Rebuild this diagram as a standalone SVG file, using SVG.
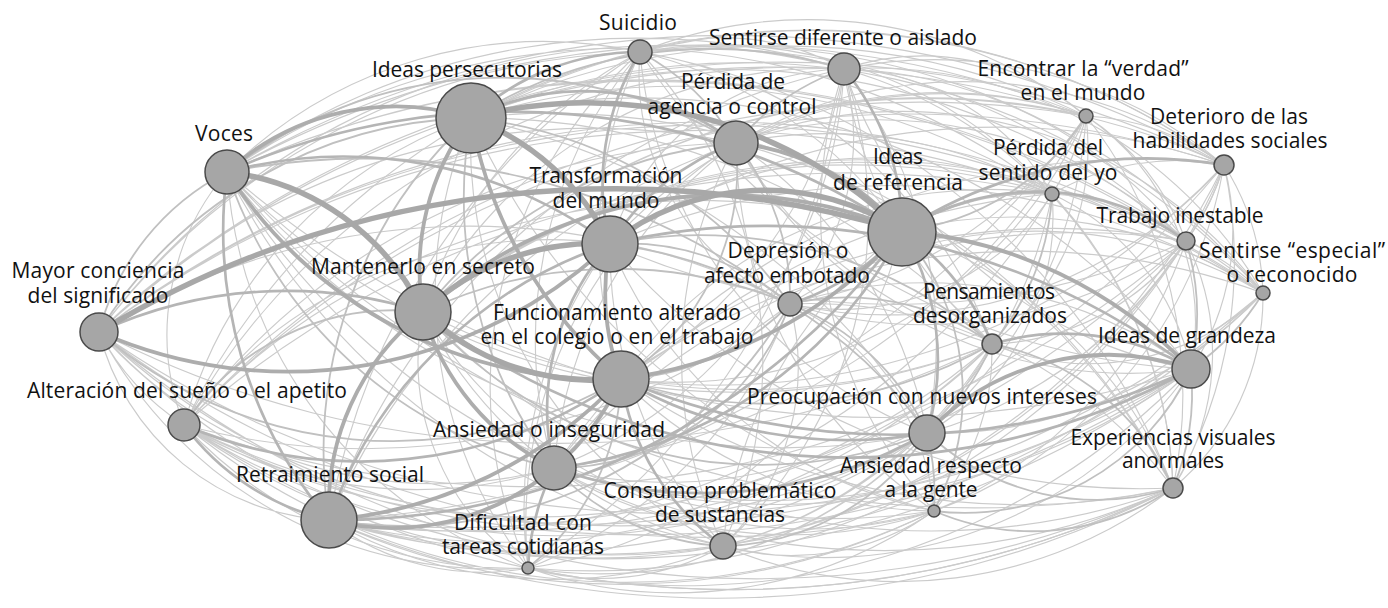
<svg xmlns="http://www.w3.org/2000/svg" width="1388" height="608" viewBox="0 0 1388 608">
<style>
.e0{fill:none;stroke:#cbcbcb;stroke-width:1.15}
.e1{fill:none;stroke:#c0c0c0;stroke-width:1.8}
.e2{fill:none;stroke:#b5b5b5;stroke-width:2.7}
.e3{fill:none;stroke:#adadad;stroke-width:3.8}
.e4{fill:none;stroke:#a8a8a8;stroke-width:5.5}
.n circle{fill:#a6a6a6;stroke:#4a4a4a;stroke-width:1.5}
.n text{font-family:"Open Sans","Noto Sans","Liberation Sans",sans-serif;font-size:21px;fill:#111;text-anchor:middle}
</style>
<rect width="1388" height="608" fill="#fff"/>
<g id="connectors">
<path class="e0" d="M99 332A250 250 0 0 0 184 425M99 332A250 250 0 0 0 329 520M99 332A450 450 0 0 0 528 568M99 332A450 450 0 0 0 554 468M99 332A700 700 0 0 1 640 52M99 332A700 700 0 0 0 723 546M99 332A700 700 0 0 1 736 143M99 332A700 700 0 0 1 790 304M99 332A700 700 0 0 1 844 69M99 332A700 700 0 0 0 927 433M99 332A1000 1000 0 0 0 934 511M99 332A1000 1000 0 0 0 992 344M99 332A1000 1000 0 0 1 1052 194M99 332A1000 1000 0 0 1 1086 116M99 332A1000 1000 0 0 0 1173 488M99 332A1000 1000 0 0 1 1186 241M99 332A1000 1000 0 0 0 1191 369M99 332A1000 1000 0 0 1 1224 165M99 332A1000 1000 0 0 1 1263 293"/>
<path class="e0" d="M184 425A250 250 0 0 1 227 172M184 425A450 450 0 0 1 471 118M184 425A450 450 0 0 0 528 568M184 425A450 450 0 0 0 554 468M184 425A450 450 0 0 1 610 244M184 425A700 700 0 0 1 640 52M184 425A700 700 0 0 0 723 546M184 425A700 700 0 0 1 736 143M184 425A700 700 0 0 0 790 304M184 425A700 700 0 0 1 844 69M184 425A700 700 0 0 1 902 231M184 425A700 700 0 0 0 927 433M184 425A700 700 0 0 0 934 511M184 425A700 700 0 0 0 992 344M184 425A1000 1000 0 0 1 1052 194M184 425A1000 1000 0 0 1 1086 116M184 425A1000 1000 0 0 0 1173 488M184 425A1000 1000 0 0 0 1186 241M184 425A1000 1000 0 0 0 1191 369M184 425A1000 1000 0 0 1 1224 165M184 425A1000 1000 0 0 0 1263 293"/>
<path class="e0" d="M227 172A450 450 0 0 0 528 568M227 172A450 450 0 0 1 640 52M227 172A700 700 0 0 0 723 546M227 172A700 700 0 0 1 844 69M227 172A700 700 0 0 0 927 433M227 172A700 700 0 0 0 934 511M227 172A700 700 0 0 0 992 344M227 172A700 700 0 0 1 1052 194M227 172A1000 1000 0 0 1 1086 116M227 172A1000 1000 0 0 0 1173 488M227 172A1000 1000 0 0 1 1186 241M227 172A1000 1000 0 0 0 1191 369M227 172A1000 1000 0 0 1 1224 165M227 172A1000 1000 0 0 1 1263 293"/>
<path class="e0" d="M329 520A250 250 0 0 0 528 568M329 520A700 700 0 0 1 640 52M329 520A450 450 0 0 0 723 546M329 520A700 700 0 0 1 736 143M329 520A700 700 0 0 1 844 69M329 520A700 700 0 0 0 927 433M329 520A700 700 0 0 0 934 511M329 520A700 700 0 0 0 992 344M329 520A700 700 0 0 0 1052 194M329 520A1000 1000 0 0 0 1086 116M329 520A1000 1000 0 0 0 1173 488M329 520A1000 1000 0 0 0 1186 241M329 520A1000 1000 0 0 0 1191 369M329 520A1000 1000 0 0 0 1224 165M329 520A1000 1000 0 0 0 1263 293"/>
<path class="e0" d="M423 312A250 250 0 0 0 528 568M423 312A450 450 0 0 1 640 52M423 312A450 450 0 0 0 723 546M423 312A450 450 0 0 1 844 69M423 312A450 450 0 0 0 934 511M423 312A700 700 0 0 0 992 344M423 312A700 700 0 0 1 1052 194M423 312A700 700 0 0 1 1086 116M423 312A700 700 0 0 0 1173 488M423 312A700 700 0 0 1 1186 241M423 312A700 700 0 0 1 1224 165M423 312A700 700 0 0 1 1263 293"/>
<path class="e0" d="M471 118A450 450 0 0 0 528 568M471 118A450 450 0 0 0 723 546M471 118A700 700 0 0 1 927 433M471 118A700 700 0 0 0 934 511M471 118A700 700 0 0 1 992 344M471 118A700 700 0 0 1 1052 194M471 118A700 700 0 0 1 1086 116M471 118A700 700 0 0 1 1173 488M471 118A700 700 0 0 1 1186 241M471 118A700 700 0 0 1 1191 369M471 118A700 700 0 0 1 1224 165M471 118A700 700 0 0 1 1263 293"/>
<path class="e0" d="M528 568A450 450 0 0 1 610 244M528 568A450 450 0 0 1 640 52M528 568A250 250 0 0 0 723 546M528 568A450 450 0 0 1 736 143M528 568A450 450 0 0 0 790 304M528 568A700 700 0 0 0 844 69M528 568A450 450 0 0 0 902 231M528 568A450 450 0 0 0 927 433M528 568A450 450 0 0 0 934 511M528 568A450 450 0 0 0 992 344M528 568A1000 1000 0 0 0 1173 488M528 568A700 700 0 0 0 1191 369M528 568A700 700 0 0 0 1186 241"/>
<path class="e0" d="M554 468A450 450 0 0 1 640 52M554 468A450 450 0 0 1 736 143M554 468A450 450 0 0 0 844 69M554 468A450 450 0 0 0 934 511M554 468A450 450 0 0 0 992 344M554 468A700 700 0 0 1 1052 194M554 468A700 700 0 0 0 1086 116M554 468A700 700 0 0 0 1173 488M554 468A700 700 0 0 1 1186 241M554 468A700 700 0 0 0 1191 369M554 468A700 700 0 0 1 1224 165M554 468A700 700 0 0 0 1263 293"/>
<path class="e0" d="M610 244A450 450 0 0 0 723 546M610 244A250 250 0 0 1 844 69M610 244A450 450 0 0 0 934 511M610 244A450 450 0 0 1 1052 194M610 244A450 450 0 0 1 1086 116M610 244A700 700 0 0 0 1173 488M610 244A700 700 0 0 0 1186 241M610 244A700 700 0 0 1 1224 165M610 244A700 700 0 0 1 1263 293"/>
<path class="e0" d="M621 379A450 450 0 0 1 640 52M621 379A450 450 0 0 0 844 69M621 379A450 450 0 0 0 934 511M621 379A450 450 0 0 1 1052 194M621 379A450 450 0 0 0 1086 116M621 379A700 700 0 0 0 1173 488M621 379A700 700 0 0 1 1186 241M621 379A700 700 0 0 0 1224 165M621 379A700 700 0 0 1 1263 293"/>
<path class="e0" d="M640 52A450 450 0 0 1 723 546M640 52A250 250 0 0 0 790 304M640 52A250 250 0 0 1 844 69M640 52A450 450 0 0 1 902 231M640 52A450 450 0 0 0 927 433M640 52A450 450 0 0 1 992 344M640 52A450 450 0 0 1 1052 194M640 52A450 450 0 0 1 1086 116M640 52A700 700 0 0 1 1173 488M640 52A700 700 0 0 1 1186 241M640 52A700 700 0 0 0 1191 369M640 52A700 700 0 0 1 1224 165M640 52A700 700 0 0 1 1263 293"/>
<path class="e0" d="M723 546A450 450 0 0 1 736 143M723 546A250 250 0 0 0 790 304M723 546A450 450 0 0 0 844 69M723 546A450 450 0 0 1 902 231M723 546A250 250 0 0 0 934 511M723 546A450 450 0 0 0 992 344M723 546A450 450 0 0 0 1052 194M723 546A450 450 0 0 0 1173 488M723 546A700 700 0 0 0 1186 241M723 546A450 450 0 0 0 1191 369M723 546A700 700 0 0 0 1224 165"/>
<path class="e0" d="M736 143A450 450 0 0 1 927 433M736 143A450 450 0 0 0 934 511M736 143A450 450 0 0 0 992 344M736 143A450 450 0 0 1 1052 194M736 143A450 450 0 0 1 1086 116M736 143A700 700 0 0 1 1173 488M736 143A450 450 0 0 1 1186 241M736 143A450 450 0 0 0 1191 369M736 143A450 450 0 0 1 1224 165M736 143A450 450 0 0 1 1263 293"/>
<path class="e0" d="M790 304A250 250 0 0 0 844 69M790 304A250 250 0 0 1 934 511M790 304A250 250 0 0 0 1052 194M790 304A450 450 0 0 0 1086 116M790 304A450 450 0 0 1 1173 488M790 304A450 450 0 0 0 1186 241M790 304A450 450 0 0 1 1191 369M790 304A450 450 0 0 0 1224 165M790 304A450 450 0 0 1 1263 293"/>
<path class="e0" d="M844 69A450 450 0 0 1 927 433M844 69A450 450 0 0 0 934 511M844 69A450 450 0 0 0 992 344M844 69A250 250 0 0 1 1052 194M844 69A250 250 0 0 1 1086 116M844 69A450 450 0 0 1 1173 488M844 69A450 450 0 0 1 1186 241M844 69A450 450 0 0 0 1191 369M844 69A450 450 0 0 1 1224 165M844 69A450 450 0 0 1 1263 293"/>
<path class="e0" d="M902 231A450 450 0 0 1 1173 488M902 231A450 450 0 0 1 1263 293M927 433A250 250 0 0 0 1052 194M927 433A450 450 0 0 0 1086 116M927 433A450 450 0 0 0 1186 241M927 433A450 450 0 0 0 1224 165M927 433A450 450 0 0 0 1263 293M934 511A250 250 0 0 0 992 344M934 511A450 450 0 0 0 1186 241M934 511A450 450 0 0 0 1224 165"/>
<path class="e0" d="M992 344A250 250 0 0 0 1086 116M992 344A250 250 0 0 0 1186 241M992 344A250 250 0 0 0 1224 165M992 344A250 250 0 0 0 1263 293M1052 194A250 250 0 0 0 1086 116M1052 194A450 450 0 0 1 1173 488M1052 194A250 250 0 0 1 1186 241M1052 194A250 250 0 0 1 1191 369M1052 194A250 250 0 0 1 1224 165M1086 116A450 450 0 0 1 1173 488M1086 116A250 250 0 0 1 1186 241M1086 116A250 250 0 0 1 1191 369M1086 116A250 250 0 0 1 1224 165"/>
<path class="e0" d="M1173 488A250 250 0 0 0 1186 241M1173 488A450 450 0 0 0 1224 165M1173 488A250 250 0 0 0 1263 293M1186 241A250 250 0 0 0 1224 165M1186 241A250 250 0 0 1 1263 293M1191 369A250 250 0 0 0 1224 165M1224 165A250 250 0 0 1 1263 293"/>
<path class="e1" d="M99 332A250 250 0 0 1 227 172"/>
<path class="e1" d="M99 332A450 450 0 0 1 471 118"/>
<path class="e1" d="M99 332A450 450 0 0 0 621 379"/>
<path class="e1" d="M184 425A250 250 0 0 1 423 312"/>
<path class="e1" d="M227 172A450 450 0 0 0 554 468"/>
<path class="e1" d="M227 172A450 450 0 0 1 736 143"/>
<path class="e1" d="M227 172A700 700 0 0 1 790 304"/>
<path class="e1" d="M329 520A450 450 0 0 1 471 118"/>
<path class="e1" d="M329 520A450 450 0 0 0 790 304"/>
<path class="e1" d="M423 312A450 450 0 0 1 736 143"/>
<path class="e1" d="M423 312A450 450 0 0 1 790 304"/>
<path class="e1" d="M423 312A450 450 0 0 0 927 433"/>
<path class="e1" d="M471 118A450 450 0 0 0 554 468"/>
<path class="e1" d="M471 118A450 450 0 0 1 790 304"/>
<path class="e1" d="M471 118A450 450 0 0 1 844 69"/>
<path class="e1" d="M528 568A250 250 0 0 0 621 379"/>
<path class="e1" d="M554 468A250 250 0 0 0 723 546"/>
<path class="e1" d="M554 468A250 250 0 0 0 790 304"/>
<path class="e1" d="M610 244A250 250 0 0 1 790 304"/>
<path class="e1" d="M610 244A450 450 0 0 1 927 433"/>
<path class="e1" d="M610 244A450 450 0 0 1 992 344"/>
<path class="e1" d="M621 379A250 250 0 0 0 736 143"/>
<path class="e1" d="M621 379A250 250 0 0 0 790 304"/>
<path class="e1" d="M621 379A450 450 0 0 0 992 344"/>
<path class="e1" d="M640 52A250 250 0 0 1 736 143"/>
<path class="e1" d="M723 546A250 250 0 0 0 927 433"/>
<path class="e1" d="M736 143A250 250 0 0 1 790 304"/>
<path class="e1" d="M736 143A250 250 0 0 1 844 69"/>
<path class="e1" d="M790 304A250 250 0 0 1 927 433"/>
<path class="e1" d="M790 304A250 250 0 0 1 992 344"/>
<path class="e1" d="M902 231A250 250 0 0 1 934 511"/>
<path class="e1" d="M902 231A250 250 0 0 1 1052 194"/>
<path class="e1" d="M902 231A250 250 0 0 0 1086 116"/>
<path class="e1" d="M927 433A250 250 0 0 1 934 511"/>
<path class="e1" d="M927 433A250 250 0 0 0 992 344"/>
<path class="e1" d="M927 433A250 250 0 0 0 1173 488"/>
<path class="e1" d="M934 511A250 250 0 0 0 1173 488"/>
<path class="e1" d="M934 511A250 250 0 0 0 1191 369"/>
<path class="e1" d="M992 344A250 250 0 0 0 1052 194"/>
<path class="e1" d="M992 344A250 250 0 0 1 1173 488"/>
<path class="e1" d="M1173 488A250 250 0 0 0 1191 369"/>
<path class="e1" d="M1186 241A250 250 0 0 1 1191 369"/>
<path class="e1" d="M1191 369A250 250 0 0 0 1263 293"/>
<path class="e2" d="M227 172A450 450 0 0 1 610 244"/>
<path class="e2" d="M227 172A450 450 0 0 0 329 520"/>
<path class="e2" d="M99 332A450 450 0 0 1 423 312"/>
<path class="e2" d="M184 425A250 250 0 0 0 329 520"/>
<path class="e2" d="M329 520A450 450 0 0 1 610 244"/>
<path class="e2" d="M790 304A250 250 0 0 0 902 231"/>
<path class="e2" d="M610 244A250 250 0 0 1 736 143"/>
<path class="e2" d="M471 118A250 250 0 0 1 736 143"/>
<path class="e2" d="M844 69A250 250 0 0 1 902 231"/>
<path class="e2" d="M902 231A250 250 0 0 1 992 344"/>
<path class="e2" d="M902 231A250 250 0 0 1 927 433"/>
<path class="e2" d="M621 379A450 450 0 0 0 927 433"/>
<path class="e2" d="M554 468A450 450 0 0 0 927 433"/>
<path class="e2" d="M329 520A700 700 0 0 0 902 231"/>
<path class="e2" d="M610 244A700 700 0 0 1 1191 369"/>
<path class="e2" d="M423 312A700 700 0 0 0 1191 369"/>
<path class="e2" d="M621 379A700 700 0 0 0 1191 369"/>
<path class="e2" d="M471 118A250 250 0 0 1 640 52"/>
<path class="e2" d="M610 244A250 250 0 0 1 640 52"/>
<path class="e2" d="M902 231A250 250 0 0 1 1186 241"/>
<path class="e2" d="M902 231A450 450 0 0 1 1224 165"/>
<path class="e2" d="M992 344A250 250 0 0 1 1191 369"/>
<path class="e2" d="M227 172A700 700 0 0 1 902 231"/>
<path class="e2" d="M554 468A250 250 0 0 1 610 244"/>
<path class="e2" d="M528 568A250 250 0 0 1 554 468"/>
<path class="e2" d="M621 379A250 250 0 0 0 723 546"/>
<path class="e2" d="M184 425A450 450 0 0 0 621 379"/>
<path class="e2" d="M554 468A450 450 0 0 0 902 231"/>
<path class="e3" d="M227 172A250 250 0 0 1 471 118"/>
<path class="e3" d="M227 172A450 450 0 0 0 621 379"/>
<path class="e3" d="M423 312A250 250 0 0 1 471 118"/>
<path class="e3" d="M423 312A450 450 0 0 1 902 231"/>
<path class="e3" d="M621 379A450 450 0 0 0 902 231"/>
<path class="e3" d="M329 520A450 450 0 0 0 621 379"/>
<path class="e3" d="M329 520A250 250 0 0 0 554 468"/>
<path class="e3" d="M99 332A470 470 0 0 0 610 244"/>
<path class="e3" d="M329 520A250 250 0 0 1 423 312"/>
<path class="e3" d="M610 244A250 250 0 0 0 621 379"/>
<path class="e3" d="M471 118A450 450 0 0 0 621 379"/>
<path class="e3" d="M554 468A250 250 0 0 0 621 379"/>
<path class="e3" d="M736 143A250 250 0 0 1 902 231"/>
<path class="e3" d="M902 231A450 450 0 0 1 1191 369"/>
<path class="e3" d="M927 433A250 250 0 0 1 1191 369"/>
<path class="e3" d="M423 312A250 250 0 0 0 554 468"/>
<path class="e4" d="M99 332A1000 1000 0 0 1 902 231"/>
<path class="e4" d="M227 172A250 250 0 0 1 423 312"/>
<path class="e4" d="M471 118A250 250 0 0 1 610 244"/>
<path class="e4" d="M423 312A250 250 0 0 1 610 244"/>
<path class="e4" d="M610 244A250 250 0 0 1 902 231"/>
<path class="e4" d="M423 312A250 250 0 0 0 621 379"/>
<path class="e4" d="M471 118A450 450 0 0 1 902 231"/>
</g>
<g id="node-suicidio" class="n"><circle cx="640" cy="52" r="12"/><text x="638" y="30" textLength="78">Suicidio</text></g>
<g id="node-sentirse-diferente" class="n"><circle cx="844" cy="69" r="16"/><text x="843" y="45" textLength="268">Sentirse diferente o aislado</text></g>
<g id="node-ideas-persecutorias" class="n"><circle cx="471" cy="118" r="35"/><text x="467" y="77" textLength="190">Ideas persecutorias</text></g>
<g id="node-perdida-agencia" class="n"><circle cx="736" cy="143" r="22"/><text><tspan x="733" y="89" textLength="104">Pérdida de</tspan><tspan x="732" y="114" textLength="169">agencia o control</tspan></text></g>
<g id="node-encontrar-verdad" class="n"><circle cx="1086" cy="116" r="7"/><text><tspan x="1083" y="76" textLength="211">Encontrar la “verdad”</tspan><tspan x="1083" y="100" textLength="125">en el mundo</tspan></text></g>
<g id="node-deterioro" class="n"><circle cx="1224" cy="165" r="10"/><text><tspan x="1229" y="124" textLength="158">Deterioro de las</tspan><tspan x="1230" y="148" textLength="195">habilidades sociales</tspan></text></g>
<g id="node-voces" class="n"><circle cx="227" cy="172" r="22"/><text x="224" y="141" textLength="58">Voces</text></g>
<g id="node-ideas-referencia" class="n"><circle cx="902" cy="232" r="34"/><text><tspan x="898" y="164" textLength="50">Ideas</tspan><tspan x="898" y="190" textLength="130">de referencia</tspan></text></g>
<g id="node-perdida-yo" class="n"><circle cx="1052" cy="194" r="7"/><text><tspan x="1048" y="155" textLength="110">Pérdida del</tspan><tspan x="1048" y="180" textLength="139">sentido del yo</tspan></text></g>
<g id="node-transformacion" class="n"><circle cx="610" cy="244" r="28"/><text><tspan x="606" y="183" textLength="153">Transformación</tspan><tspan x="606" y="208" textLength="107">del mundo</tspan></text></g>
<g id="node-trabajo" class="n"><circle cx="1186" cy="241" r="9"/><text x="1180" y="223" textLength="167">Trabajo inestable</text></g>
<g id="node-especial" class="n"><circle cx="1263" cy="293" r="7"/><text><tspan x="1292" y="258" textLength="186">Sentirse “especial”</tspan><tspan x="1292" y="282" textLength="131">o reconocido</tspan></text></g>
<g id="node-depresion" class="n"><circle cx="790" cy="304" r="12"/><text><tspan x="788" y="258" textLength="121">Depresión o</tspan><tspan x="787" y="283" textLength="166">afecto embotado</tspan></text></g>
<g id="node-mayor-conciencia" class="n"><circle cx="99" cy="332" r="19"/><text><tspan x="98" y="278" textLength="173">Mayor conciencia</tspan><tspan x="98" y="303" textLength="141">del significado</tspan></text></g>
<g id="node-mantenerlo" class="n"><circle cx="423" cy="312" r="28"/><text x="423" y="274" textLength="224">Mantenerlo en secreto</text></g>
<g id="node-pensamientos" class="n"><circle cx="992" cy="344" r="10"/><text><tspan x="989" y="299" textLength="132">Pensamientos</tspan><tspan x="990" y="323" textLength="154">desorganizados</tspan></text></g>
<g id="node-funcionamiento" class="n"><circle cx="621" cy="379" r="28"/><text><tspan x="617" y="320" textLength="248">Funcionamiento alterado</tspan><tspan x="617" y="344" textLength="273">en el colegio o en el trabajo</tspan></text></g>
<g id="node-grandeza" class="n"><circle cx="1191" cy="369" r="19"/><text x="1187" y="343" textLength="178">Ideas de grandeza</text></g>
<g id="node-alteracion" class="n"><circle cx="184" cy="425" r="16"/><text x="187" y="398" textLength="320">Alteración del sueño o el apetito</text></g>
<g id="node-preocupacion" class="n"><circle cx="927" cy="433" r="18"/><text x="922" y="404" textLength="350">Preocupación con nuevos intereses</text></g>
<g id="node-ansiedad-inseguridad" class="n"><circle cx="554" cy="468" r="22"/><text x="549" y="437" textLength="232">Ansiedad o inseguridad</text></g>
<g id="node-experiencias" class="n"><circle cx="1173" cy="488" r="10"/><text><tspan x="1173" y="445" textLength="205">Experiencias visuales</tspan><tspan x="1173" y="468" textLength="102">anormales</tspan></text></g>
<g id="node-ansiedad-gente" class="n"><circle cx="934" cy="511" r="6"/><text><tspan x="931" y="473" textLength="182">Ansiedad respecto</tspan><tspan x="931" y="497" textLength="93">a la gente</tspan></text></g>
<g id="node-retraimiento" class="n"><circle cx="329" cy="520" r="28"/><text x="330" y="482" textLength="188">Retraimiento social</text></g>
<g id="node-consumo" class="n"><circle cx="723" cy="546" r="13"/><text><tspan x="720" y="498" textLength="233">Consumo problemático</tspan><tspan x="720" y="522" textLength="130">de sustancias</tspan></text></g>
<g id="node-dificultad" class="n"><circle cx="528" cy="568" r="6"/><text><tspan x="523" y="530" textLength="138">Dificultad con</tspan><tspan x="523" y="554" textLength="162">tareas cotidianas</tspan></text></g>
</svg>
